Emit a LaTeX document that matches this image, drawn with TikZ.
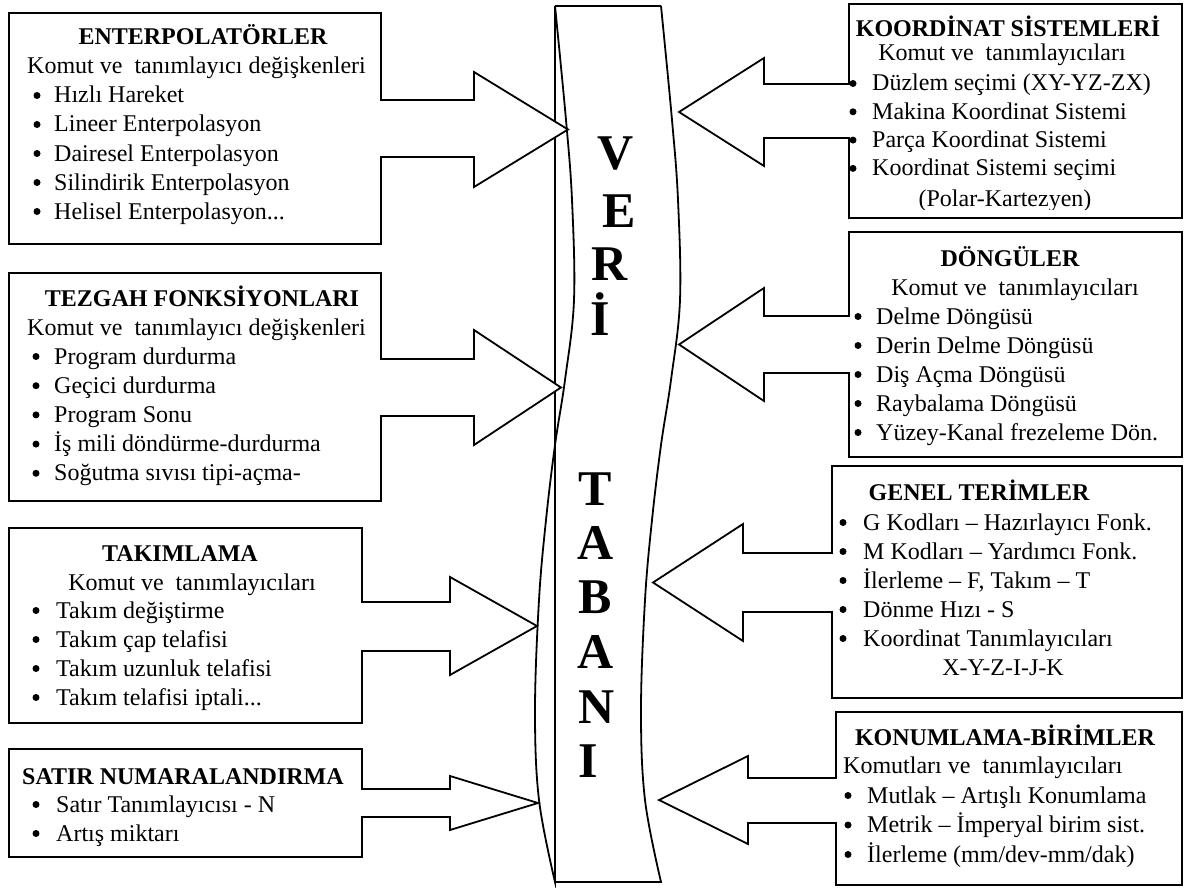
\documentclass[tikz,border=0pt]{standalone}
\usepackage{fontspec}
\setmainfont{Liberation Serif}
\newcommand\trailingdots{...}
\begin{document}
\begin{tikzpicture}[x=1pt,y=-1pt,
  outline/.style={draw=black, line width=1.8pt, line join=miter, fill=white},
  ttl/.style={font=\fontsize{24}{29}\selectfont\bfseries, inner sep=0, anchor=base},
  txt/.style={font=\fontsize{24}{29}\selectfont, inner sep=0, anchor=base west},
  ctxt/.style={font=\fontsize{24}{29}\selectfont, inner sep=0, anchor=base},
  dot/.style={circle, fill=black, inner sep=0, minimum size=7pt},
  big/.style={font=\fontsize{50}{60}\selectfont\bfseries, inner sep=0, anchor=base west}]

\fill[white] (0,0) rectangle (1184,888);
\useasboundingbox (0,0) rectangle (1184,888);

% ---- central "VERİ TABANI" banner ----
\draw[outline]
  (555,6) -- (661,6)
  plot[smooth, tension=0.6] coordinates {(661,6) (672,120) (678,200) (680,300) (671,380) (661,445) (652,520) (645,600) (641,710) (645,800) (661,882)}
  -- (555,882)
  plot[smooth, tension=0.6] coordinates {(555,882) (539,800) (535,710) (539,600) (546,520) (555,445) (565,380) (574,300) (572,200) (566,120) (555,6)}
  -- cycle;

\node[big] (v1) at (597,170) {V};
\node[big] (v2) at (602,227) {E};
\node[big] (v3) at (591,280) {R};
\node[big] (v4) at (590,335) {İ};
\node[big] (v5) at (578,505) {T};
\node[big] (v6) at (577,559) {A};
\node[big] (v7) at (578,613) {B};
\node[big] (v8) at (577,668) {A};
\node[big] (v9) at (578,723) {N};
\node[big] (v10) at (578,777) {I};

% ---- arrow tips ----
\coordinate (tl1) at (568,129.5);
\coordinate (tl2) at (561,387.5);
\coordinate (tl3) at (537,626);
\coordinate (tl4) at (538,803);
\coordinate (tr1) at (679,112);
\coordinate (tr2) at (679,344.5);
\coordinate (tr3) at (653,582.5);
\coordinate (tr4) at (659,800);

% ---- left boxes with their block arrows ----
\draw[outline] (9,13) -- (381,13) -- (381,100) -- (474,100) -- (474,72) -- (tl1)
  -- (474,187) -- (474,157) -- (381,157) -- (381,244) -- (9,244) -- cycle;
\draw[outline] (9,273) -- (381,273) -- (381,359) -- (474,359) -- (474,330) -- (tl2)
  -- (474,445) -- (474,416) -- (381,416) -- (381,501) -- (9,501) -- cycle;
\draw[outline] (9,528) -- (362,528) -- (362,602) -- (450,602) -- (450,577) -- (tl3)
  -- (450,675) -- (450,651) -- (362,651) -- (362,723) -- (9,723) -- cycle;
\draw[outline] (9,749) -- (362,749) -- (362,789) -- (450,789) -- (450,776) -- (tl4)
  -- (450,830) -- (450,817) -- (362,817) -- (362,857) -- (9,857) -- cycle;

% ---- right boxes with their block arrows ----
\draw[outline] (1182,4) -- (849,4) -- (849,84) -- (764,84) -- (764,58) -- (tr1)
  -- (764,166) -- (764,138) -- (849,138) -- (849,218) -- (1182,218) -- cycle;
\draw[outline] (1182,232) -- (849,232) -- (849,316) -- (764,316) -- (764,288) -- (tr2)
  -- (764,401) -- (764,373) -- (849,373) -- (849,457) -- (1182,457) -- cycle;
\draw[outline] (1182,466) -- (832,466) -- (832,553) -- (743,553) -- (743,524) -- (tr3)
  -- (743,641) -- (743,612) -- (832,612) -- (832,698) -- (1182,698) -- cycle;
\draw[outline] (1182,712) -- (836,712) -- (836,778) -- (748,778) -- (748,756) -- (tr4)
  -- (748,844) -- (748,823) -- (836,823) -- (836,885) -- (1182,885) -- cycle;

% ---- ENTERPOLATÖRLER ----
\node[ttl] (t1) at (203,45) {ENTERPOLATÖRLER};
\node[txt] (k1) at (27,74) {Komut ve~ tanımlayıcı değişkenleri};
\foreach \t [count=\i from 0] in {Hızlı Hareket, Lineer Enterpolasyon, Dairesel Enterpolasyon, Silindirik Enterpolasyon, {Helisel Enterpolasyon\trailingdots}} {
  \node[dot] (ab\i) at (37,{103+29*\i-7.5}) {};
  \node[txt] (a\i) at (54,{103+29*\i}) {\t};
}

% ---- TEZGAH FONKSİYONLARI ----
\node[ttl] (t2) at (202,306) {TEZGAH FONKSİYONLARI};
\node[txt] (k2) at (27,335) {Komut ve~ tanımlayıcı değişkenleri};
\foreach \t [count=\i from 0] in {Program durdurma, Geçici durdurma, Program Sonu, İş mili döndürme-durdurma, Soğutma sıvısı tipi-açma-} {
  \node[dot] (bb\i) at (36,{364+29.2*\i-7.5}) {};
  \node[txt] (b\i) at (54,{364+29.2*\i}) {\t};
}

% ---- TAKIMLAMA ----
\node[ttl] (t3) at (180,561) {TAKIMLAMA};
\node[ctxt] (k3) at (192,590) {Komut ve~ tanımlayıcıları};
\foreach \t [count=\i from 0] in {Takım değiştirme, Takım çap telafisi, Takım uzunluk telafisi, {Takım telafisi iptali\trailingdots}} {
  \node[dot] (cb\i) at (36,{618+29*\i-7.5}) {};
  \node[txt] (c\i) at (56,{618+29*\i}) {\t};
}

% ---- SATIR NUMARALANDIRMA ----
\node[ttl] (t4) at (183,784) {SATIR NUMARALANDIRMA};
\foreach \t [count=\i from 0] in {Satır Tanımlayıcısı - N, Artış miktarı} {
  \node[dot] (db\i) at (36,{812+29*\i-7.5}) {};
  \node[txt] (d\i) at (56,{812+29*\i}) {\t};
}

% ---- KOORDİNAT SİSTEMLERİ ----
\begin{scope}
  \clip (849,4) rectangle (1182,209);
  \node[ttl] (t5) at (1008,37) {KOORDİNAT SİSTEMLERİ};
  \node[ctxt] (k5) at (1002,61) {Komut ve~ tanımlayıcıları};
  \foreach \t [count=\i from 0] in {Düzlem seçimi (XY-YZ-ZX), Makina Koordinat Sistemi, Parça Koordinat Sistemi, Koordinat Sistemi seçimi} {
    \node[dot] (eb\i) at (853,{91+28.3*\i-7.5}) {};
    \node[txt] (e\i) at (872,{91+28.3*\i}) {\t};
  }
  \node[ctxt] (e4) at (1005,207) {(Polar-Kartezyen)};
\end{scope}

% ---- DÖNGÜLER ----
\node[ttl] (t6) at (1010,266) {DÖNGÜLER};
\node[ctxt] (k6) at (1015,295) {Komut ve~ tanımlayıcıları};
\foreach \t [count=\i from 0] in {Delme Döngüsü, Derin Delme Döngüsü, Diş Açma Döngüsü, Raybalama Döngüsü, Yüzey-Kanal frezeleme Dön.} {
  \node[dot] (fb\i) at (858,{324+29*\i-7.5}) {};
  \node[txt] (f\i) at (876,{324+29*\i}) {\t};
}

% ---- GENEL TERİMLER ----
\node[ttl] (t7) at (979,500) {GENEL TERİMLER};
\foreach \t [count=\i from 0] in {G Kodları – Hazırlayıcı Fonk., M Kodları – Yardımcı Fonk., {İlerleme – F, Takım – T}, Dönme Hızı - S, Koordinat Tanımlayıcıları} {
  \node[dot] (gb\i) at (843,{530+29*\i-7.5}) {};
  \node[txt] (g\i) at (863,{530+29*\i}) {\t};
}
\node[ctxt] (g5) at (1003,675) {X-Y-Z-I-J-K};

% ---- KONUMLAMA-BİRİMLER ----
\node[ttl] (t8) at (1005,745) {KONUMLAMA-BİRİMLER};
\node[txt] (k8) at (843,773) {Komutları ve~ tanımlayıcıları};
\foreach \t [count=\i from 0] in {Mutlak – Artışlı Konumlama, Metrik – İmperyal birim sist., İlerleme (mm/dev-mm/dak)} {
  \node[dot] (hb\i) at (848,{803+29.5*\i-7.5}) {};
  \node[txt] (h\i) at (867,{803+29.5*\i}) {\t};
}

\end{tikzpicture}
\end{document}
